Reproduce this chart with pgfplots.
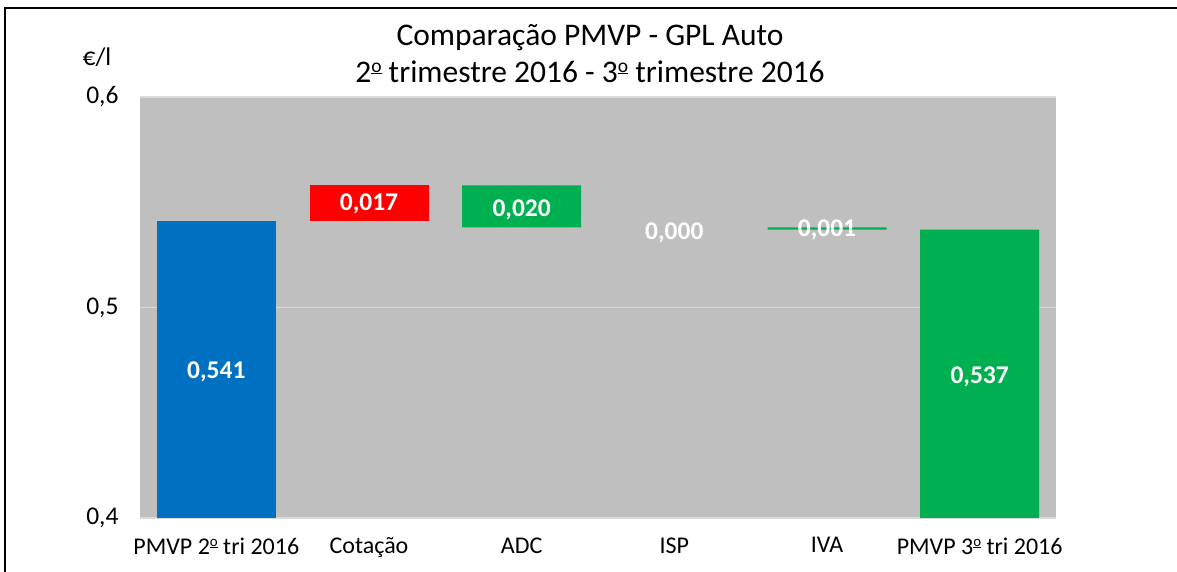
\documentclass[border=0pt]{standalone}
\usepackage{pgfplots}
\pgfplotsset{compat=1.18}
\usepackage{fontspec}
\setmainfont{Carlito}
\newcommand\ordo{\raisebox{0.33em}{\scalebox{0.62}{\underline{o}}}}
\definecolor{bblue}{HTML}{0070C0}
\definecolor{bred}{HTML}{FF0000}
\definecolor{bgreen}{HTML}{00B050}
\definecolor{gbg}{HTML}{BFBFBF}
\definecolor{gridc}{HTML}{D9D9D9}
\begin{document}
\begin{tikzpicture}[x=1pt,y=1pt]
\useasboundingbox (0,0) rectangle (1177,571);
\fill[white] (0,0) rectangle (1177,571);
\draw[line width=1.6pt, black] (5,-2) -- (5,563) -- (1180,563);
\node[font=\fontsize{31.5}{37}\selectfont, align=center] at (590,517.5) {Comparação PMVP - GPL Auto\\2\ordo{} trimestre 2016 - 3\ordo{} trimestre 2016};
\node[font=\fontsize{25.5}{30}\selectfont] at (97,514) {€/l};
\begin{axis}[at={(140pt,53pt)}, anchor=south west, scale only axis,
  width=916pt, height=421pt,
  xmin=-0.5, xmax=5.5, ymin=0.4, ymax=0.6,
  axis background/.style={fill=gbg},
  axis line style={draw=none},
  ybar stacked, bar width=119pt,
  xtick={0,1,2,3,4,5},
  xticklabels={PMVP 2\ordo{} tri 2016, Cotação, ADC, ISP, IVA, PMVP 3\ordo{} tri 2016},
  ytick={0.4,0.5,0.6},
  yticklabels={{0,4},{0,5},{0,6}},
  ymajorgrids, grid style={draw=gridc, line width=1.2pt},
  major tick length=0pt,
  tick label style={font=\fontsize{24}{29}\selectfont, text=black},
  xticklabel style={yshift=-16pt},
  yticklabel style={xshift=-18pt, font=\fontsize{25.5}{30}\selectfont},
]
\addplot[draw=none, fill=none] coordinates {(0,0) (1,0.541) (2,0.538) (3,0.537) (4,0.537) (5,0)};
\addplot[draw=none, fill=bblue] coordinates {(0,0.541) (1,0) (2,0) (3,0) (4,0) (5,0)};
\addplot[draw=none, fill=bred] coordinates {(0,0) (1,0.017) (2,0) (3,0) (4,0) (5,0)};
\addplot[draw=none, fill=bgreen] coordinates {(0,0) (1,0) (2,0.020) (3,0) (4,0.001) (5,0.537)};
\end{axis}
\begin{axis}[at={(140pt,53pt)}, anchor=south west, scale only axis,
  width=916pt, height=421pt,
  xmin=-0.5, xmax=5.5, ymin=0.4, ymax=0.6,
  hide axis, clip=false]
\addplot[only marks, mark=none, point meta=explicit symbolic,
  nodes near coords={\pgfplotspointmeta},
  every node near coord/.append style={anchor=center, text=white, font=\fontsize{25.5}{30}\bfseries\selectfont}]
  coordinates {(0,0.4695) [0,541] (1,0.549) [0,017] (2,0.5462) [0,020] (3,0.5355) [0,000] (4,0.537) [0,001] (5,0.467) [0,537]};
\end{axis}
\end{tikzpicture}
\end{document}
